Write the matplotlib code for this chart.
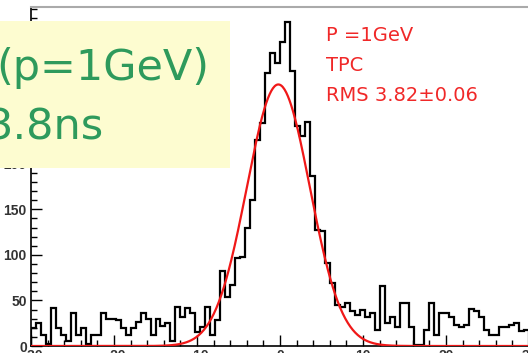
import matplotlib.pyplot as plt
import numpy as np

# histogram: 100 bins from -30 to 30 (ns)
bin_edges = np.linspace(-30, 30, 101)
counts = [
    20, 25, 12, 2, 42, 20, 12, 6, 36, 12,
    20, 2, 12, 12, 36, 30, 30, 28, 20, 12,
    20, 26, 36, 30, 12, 30, 22, 25, 6, 43,
    32, 42, 36, 15, 21, 43, 12, 28, 82, 54,
    67, 97, 98, 130, 160, 226, 245, 300, 322, 311,
    334, 355, 302, 241, 230, 246, 186, 127, 126, 91,
    69, 45, 43, 47, 38, 34, 40, 32, 36, 18,
    66, 25, 32, 21, 47, 47, 21, 1, 1, 18,
    47, 12, 36, 36, 32, 23, 21, 23, 41, 38,
    32, 18, 12, 12, 21, 21, 23, 25, 16, 18,
]

# gaussian fit
fit_amp = 287
fit_mean = -0.2
fit_sigma = 3.8

y_ticks = [0, 50, 100, 150, 200, 250, 300, 350]
y_labels = ['0', '50', '100', '150', '200', '', '', '']  # upper ones sit under the yellow box
info_lines = ["P =1GeV", "TPC", "RMS 3.82\u00b10.06"]
box_lines = ["(p=1GeV)", "3.8ns"]

fig = plt.figure(figsize=(5.28, 3.53), dpi=100)
W, H = 528, 353
ax = fig.add_axes([31 / W, 7 / H, 498 / W, 339 / H])

ax.stairs(counts, bin_edges, color='black', lw=1.6, zorder=3)
xf = np.linspace(-30, 30, 600)
ax.plot(xf, fit_amp * np.exp(-0.5 * ((xf - fit_mean) / fit_sigma) ** 2),
        color='#f01818', lw=1.6, zorder=4)

ax.set_xlim(-30, 30)
ax.set_ylim(0, 372)
ax.set_xticks(np.arange(-30, 31, 10))
ax.set_xticks(np.arange(-30, 31, 2), minor=True)
ax.set_yticks(y_ticks)
ax.set_yticklabels(y_labels)
ax.set_yticks(np.arange(0, 371, 10), minor=True)
ax.tick_params(which='both', direction='in', top=False, right=False,
               labelsize=10, width=1)
ax.tick_params(which='major', length=8)
ax.tick_params(which='minor', length=4)
ax.tick_params(axis='x', pad=2)
ax.tick_params(axis='y', pad=3)
for lab in ax.get_xticklabels() + ax.get_yticklabels():
    lab.set_family('Liberation Sans')
    lab.set_fontweight('bold')
    lab.set_color('#333333')
ax.spines['top'].set_color('#aaaaaa')
ax.spines['top'].set_linewidth(1.5)
ax.spines['right'].set_visible(False)
ax.spines['left'].set_linewidth(1.2)
ax.spines['bottom'].set_linewidth(1.2)

for i, s in enumerate(info_lines):
    fig.text(326 / W, 1 - (26 + 30 * i) / H, s, color='#f02828',
             fontsize=14, family='DejaVu Sans', va='top', ha='left')

# yellow label box on top of the plot
box = plt.Rectangle((0, 1 - 168 / H), 230 / W, 147 / H, transform=fig.transFigure,
                    facecolor='#fdfcd0', edgecolor='none', zorder=10)
fig.add_artist(box)
fig.text(-4 / W, 1 - 80 / H, box_lines[0], color='#2e9a5c', fontsize=31,
         va='baseline', ha='left', zorder=11)
fig.text(-14 / W, 1 - 140 / H, box_lines[1], color='#2e9a5c', fontsize=31,
         va='baseline', ha='left', zorder=11)

fig.savefig('out.png', dpi=100)
